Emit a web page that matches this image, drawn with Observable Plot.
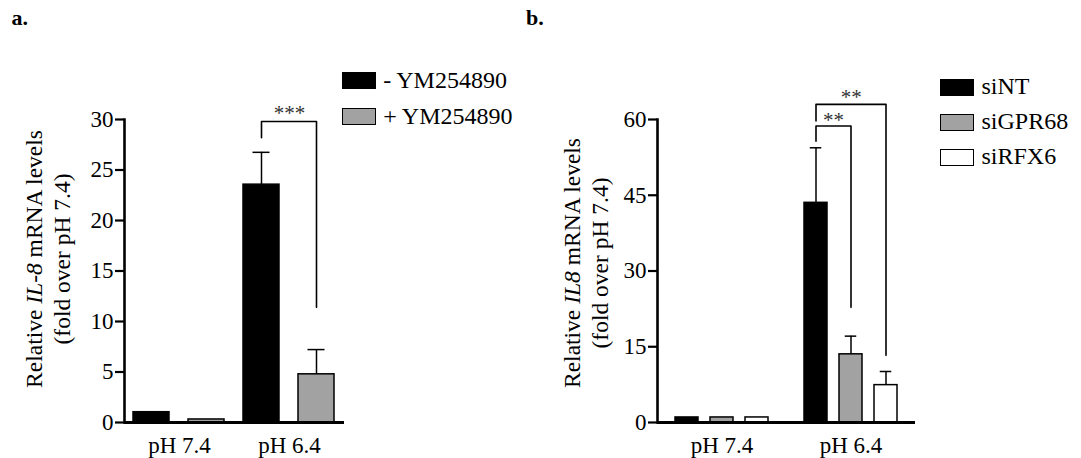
<!DOCTYPE html>
<html><head><meta charset="utf-8">
<script src="https://cdn.jsdelivr.net/npm/d3@7"></script>
<script src="https://cdn.jsdelivr.net/npm/@observablehq/plot@0.6"></script>
<style>
html,body{margin:0;padding:0;background:#fff;}
#root{position:relative;width:1081px;height:458px;overflow:hidden;font-family:"Liberation Serif","Times New Roman",serif;color:#000;}
#root svg{position:absolute;top:0;}
#root svg text{font-family:"Liberation Serif","Times New Roman",serif;}
.ylab{position:absolute;transform:translate(-50%,-50%) rotate(-90deg);text-align:center;white-space:nowrap;font-size:23.5px;line-height:28px;}
.plab{position:absolute;font-weight:bold;font-size:22px;line-height:22px;}
.legtxt{position:absolute;font-size:24px;line-height:24px;white-space:nowrap;}
.sw{position:absolute;width:34px;height:17px;box-sizing:border-box;border:1.5px solid #000;}
</style></head>
<body><div id="root"></div>
<script>
// ---------- data ----------
const groups = ["pH 7.4", "pH 6.4"];

// panel a
const seriesA = ["- YM254890", "+ YM254890"];
const colorsA = ["#000000", "#a2a2a2"];
const meanA_74 = [1.02, 0.3];
const meanA_64 = [23.55, 4.77];
const semA_74 = [0, 0];
const semA_64 = [3.2, 2.45];
const yTicksA = [0, 5, 10, 15, 20, 25, 30];
const sigA = [
  {group: "pH 6.4", from: "- YM254890", to: "+ YM254890", base: 28.2, top: 29.8, end: 11.4, label: "***", labelY: 30.9}
];

// panel b
const seriesB = ["siNT", "siGPR68", "siRFX6"];
const colorsB = ["#000000", "#a2a2a2", "#ffffff"];
const meanB_74 = [1.0, 1.0, 1.0];
const meanB_64 = [43.5, 13.5, 7.4];
const semB_74 = [0, 0, 0];
const semB_64 = [10.9, 3.6, 2.7];
const yTicksB = [0, 15, 30, 45, 60];
const sigB = [
  {group: "pH 6.4", from: "siNT", to: "siGPR68", base: 55.7, top: 58.7, end: 22.8, label: "**", labelY: 60.4},
  {group: "pH 6.4", from: "siNT", to: "siRFX6", base: 59.7, top: 63.0, end: 13.3, label: "**", labelY: 64.95}
];

// ---------- build ----------
function rows(series, means, sems) {
  return groups.flatMap((g, gi) => series.map((s, si) => ({group: g, series: s, value: means[gi][si], err: sems[gi][si]})));
}
const barsA = rows(seriesA, [meanA_74, meanA_64], [semA_74, semA_64]);
const barsB = rows(seriesB, [meanB_74, meanB_64], [semB_74, semB_64]);

const layoutA = {left: 0, width: 540, marginLeft: 123, marginRight: 196, marginTop: 119, marginBottom: 36, padIn: 19/56, padOut: 0.156, cap: 9.5};
const layoutB = {left: 540, width: 541, marginLeft: 116, marginRight: 166, marginTop: 119, marginBottom: 36, padIn: 0.332, padOut: 0.507, cap: 5.75};

function panel(L, series, colors, bars, sig, yDomain, yTicks) {
  const facetW = (L.width - L.marginLeft - L.marginRight) / groups.length;
  const step = facetW / (series.length - L.padIn + 2 * L.padOut);
  const errs = bars.filter(d => d.err > 0);
  const paths = sig.flatMap((b, i) => [
    {id: i, group: b.group, x: b.from, y: b.base},
    {id: i, group: b.group, x: b.from, y: b.top},
    {id: i, group: b.group, x: b.to, y: b.top},
    {id: i, group: b.group, x: b.to, y: b.end}
  ]);
  const svg = Plot.plot({
    width: L.width,
    height: 458,
    marginTop: L.marginTop, marginBottom: L.marginBottom,
    marginLeft: L.marginLeft, marginRight: L.marginRight,
    style: {fontFamily: "'Liberation Serif', 'Times New Roman', serif", fontSize: "22px", color: "#000", background: "transparent", overflow: "visible"},
    fx: {domain: groups, padding: 0, label: null},
    x: {domain: series, paddingInner: L.padIn, paddingOuter: L.padOut, axis: null},
    y: {domain: yDomain, label: null},
    color: {domain: series, range: colors},
    marks: [
      Plot.barY(bars, {fx: "group", x: "series", y: "value", fill: "series", stroke: "#000", strokeWidth: 1.5}),
      Plot.ruleX(errs, {fx: "group", x: "series", y1: "value", y2: d => d.value + d.err, stroke: "#000", strokeWidth: 1.5}),
      Plot.tickY(errs, {fx: "group", x: "series", y: d => d.value + d.err, stroke: "#000", strokeWidth: 1.5, inset: L.cap}),
      Plot.line(paths, {fx: "group", x: "x", y: "y", z: "id", stroke: "#000", strokeWidth: 1.6}),
      ...sig.map(b => Plot.text([b], {fx: "group", x: "from", y: "labelY", text: "label",
        dx: (series.indexOf(b.to) - series.indexOf(b.from)) * step / 2, dy: 3, fontSize: 21, fill: "#333"})),
      Plot.ruleY([0], {stroke: "#000", strokeWidth: 3}),
      Plot.frame({anchor: "left", facetAnchor: "left", stroke: "#000", strokeWidth: 2.6}),
      Plot.axisY({ticks: yTicks, tickSize: 9, tickPadding: 2, strokeWidth: 2.2, label: null, fontSize: 23}),
      Plot.axisFx({anchor: "bottom", tickSize: 0, tickPadding: 14, label: null, fontSize: 23})
    ]
  });
  svg.style.left = L.left + "px";
  return svg;
}

const root = document.getElementById("root");
root.appendChild(panel(layoutA, seriesA, colorsA, barsA, sigA, [0, 30], yTicksA));
root.appendChild(panel(layoutB, seriesB, colorsB, barsB, sigB, [0, 60], yTicksB));

function addDiv(cls, left, top, html) {
  const d = document.createElement("div");
  d.className = cls;
  d.style.left = left + "px";
  d.style.top = top + "px";
  d.innerHTML = html;
  root.appendChild(d);
  return d;
}
// panel letters
addDiv("plab", 11.5, 6.6, "a.");
addDiv("plab", 526, 6.6, "b.");
// y labels
addDiv("ylab", 48, 259, "<div>Relative <i>IL-8</i> mRNA levels</div><div>(fold over pH 7.4)</div>");
addDiv("ylab", 585.5, 263, "<div>Relative <i>IL8</i> mRNA levels</div><div>(fold over pH 7.4)</div>");
// legends
function legend(series, colors, x, top0, gap) {
  series.forEach((s, i) => {
    const sw = addDiv("sw", x, top0 + i * gap, "");
    sw.style.background = colors[i];
    addDiv("legtxt", x + 41.5, top0 + i * gap + 17 - 1 - 20.1, s);
  });
}
legend(seriesA, colorsA, 341.7, 71.8, 36);
legend(seriesB, colorsB, 940, 78.5, 35);
</script>
</body></html>
